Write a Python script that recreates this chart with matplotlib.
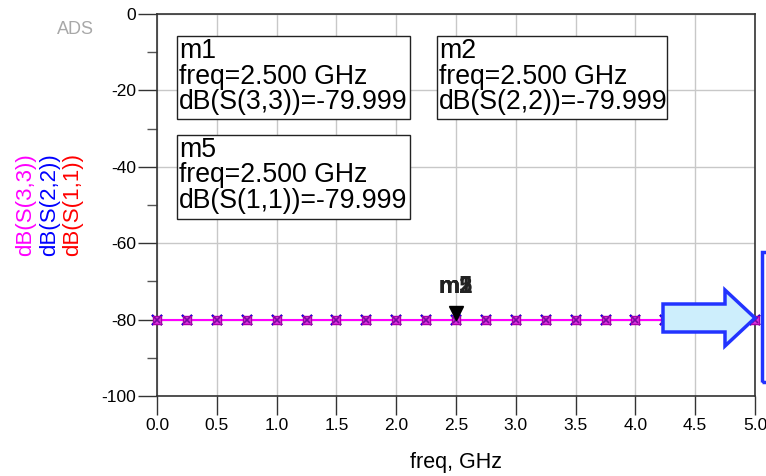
import matplotlib
matplotlib.use("Agg")
import matplotlib.pyplot as plt
import matplotlib.transforms as mtransforms
from matplotlib.patches import FancyArrow, Rectangle
import numpy as np

plt.rcParams['font.family'] = ['Liberation Sans', 'DejaVu Sans']
plt.rcParams['axes.unicode_minus'] = False

# data
freq_ghz = [0.0, 0.25, 0.5, 0.75, 1.0, 1.25, 1.5, 1.75, 2.0, 2.25, 2.5,
            2.75, 3.0, 3.25, 3.5, 3.75, 4.0, 4.25, 4.5, 4.75, 5.0]
db_s11 = [-79.999] * len(freq_ghz)
db_s22 = [-79.999] * len(freq_ghz)
db_s33 = [-79.999] * len(freq_ghz)
x_ticks = [0.0, 0.5, 1.0, 1.5, 2.0, 2.5, 3.0, 3.5, 4.0, 4.5, 5.0]
y_ticks = [0, -20, -40, -60, -80, -100]
marker_freq = 2.5
marker_val = -79.999
markers = [("m1", "dB(S(3,3))"), ("m2", "dB(S(2,2))"), ("m5", "dB(S(1,1))")]

W, H = 766, 476
fig = plt.figure(figsize=(W/100, H/100), dpi=100)
ax = fig.add_axes([157/W, 1-396/H, (755-157)/W, (396-14)/H])

def fx(px):
    return px / W

def fy(py):
    return 1 - py / H

ax.set_xlim(0, 5)
ax.set_ylim(-100, 0)
ax.set_xticks(x_ticks)
ax.set_xticklabels([f"{v:.1f}" for v in x_ticks])
ax.set_yticks(y_ticks)
ax.set_yticks(np.arange(-90, 0, 20), minor=True)
ax.tick_params(axis='both', which='major', length=14, width=1, color='#333333',
               labelsize=12.5, labelcolor='black')
ax.tick_params(axis='y', which='minor', length=7, width=1, color='#555555')
ax.tick_params(axis='x', which='major', pad=1.5)
ax.tick_params(axis='y', which='major', pad=1)
ax.grid(True, which='major', color='#c8c8c8', linewidth=1)
ax.set_axisbelow(True)
for s in ax.spines.values():
    s.set_color('#333333')
    s.set_linewidth(1.2)

ax.set_xlabel("freq, GHz", fontsize=15.5, labelpad=14)

# series
ax.plot(freq_ghz, db_s11, color='red', lw=1.2, marker='x', ms=7, mew=1.5, zorder=3, clip_on=False)
ax.plot(freq_ghz, db_s22, color='blue', lw=1.2, marker='x', ms=7, mew=1.5, zorder=4, clip_on=False)
ax.plot(freq_ghz, db_s33, color='#ff00ff', lw=1.5, marker='s', ms=6, mfc='#dd33dd',
        mec='#aa00aa', zorder=5, clip_on=False)
ax.plot(freq_ghz, db_s33, ls='none', marker='x', ms=5, mew=1.2, color='#7a0aa0', zorder=6, clip_on=False)

# marker triangle & labels
tri_tr = mtransforms.offset_copy(ax.transData, fig=fig, x=0, y=7, units='dots')
ax.plot([marker_freq], [marker_val], marker='v', ms=10, color='black', transform=tri_tr,
        zorder=7, clip_on=False)
for name, _ in markers:
    ax.annotate(name, (marker_freq, marker_val), xytext=(0, 15.5), textcoords='offset points',
                ha='center', va='bottom', fontsize=17, fontweight='bold', color='#222222')

# marker readout boxes
box_pos = [(177, 36, 410, 119), (437, 36, 667, 119), (177, 135, 410, 219)]
for (name, expr), (x0, y0, x1, y1) in zip(markers, box_pos):
    fig.add_artist(Rectangle((fx(x0), fy(y1)), fx(x1) - fx(x0), fy(y0) - fy(y1),
                             transform=fig.transFigure, fc='white', ec='#222222', lw=1, zorder=8))
    lines = [name, f"freq={marker_freq:.3f} GHz", f"{expr}={marker_val:.3f}"]
    for i, ln in enumerate(lines):
        fig.text(fx(x0 + 2), fy(y0 + 22 + 25.5 * i), ln, ha='left', va='baseline',
                 fontsize=19.2, color='black', zorder=9)

# y labels
ylabels = [("dB(S(3,3))", '#ff00ff', 26), ("dB(S(2,2))", 'blue', 50), ("dB(S(1,1))", 'red', 73)]
for t, c, xp in ylabels:
    fig.text(fx(xp), fy(205), t, rotation=90, color=c, fontsize=16,
             ha='center', va='center')

# ADS watermark
fig.text(fx(75), fy(30), "ADS", color='#a8a8a8', fontsize=13, ha='center', va='center')

# arrow decoration
arr = FancyArrow(fx(663), fy(318), fx(755) - fx(663), 0, width=28/H,
                 head_width=56/H, head_length=30/W, length_includes_head=True,
                 transform=fig.transFigure, fc='#cdeefc', ec='#2233ff', lw=2.5, zorder=10)
fig.add_artist(arr)
rect = Rectangle((fx(762), fy(382)), 0.05, (382-252)/H, transform=fig.transFigure,
                 fc='none', ec='#2233ff', lw=2.5)
fig.add_artist(rect)

fig.savefig("out.png", dpi=100)
